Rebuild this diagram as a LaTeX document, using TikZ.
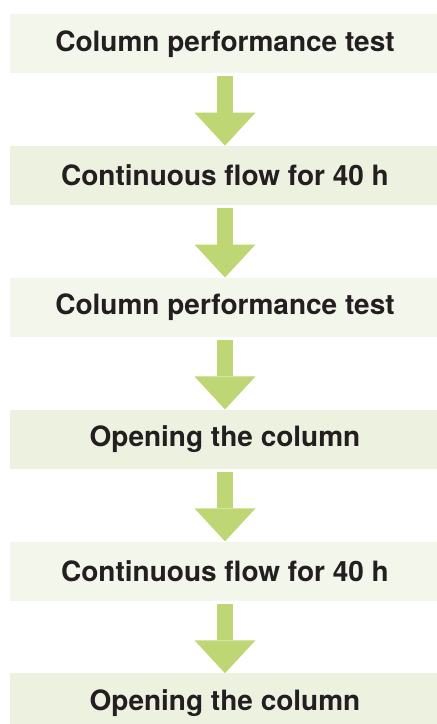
\documentclass[tikz,border=0pt]{standalone}
\usepackage{fontspec}
\setmainfont{TeX Gyre Heros}
\usepackage{xcolor}
\usepackage{tikz}
\usetikzlibrary{arrows.meta,positioning}
\definecolor{PaleGreen}{HTML}{F3F6EA}
\definecolor{SoftGreen}{HTML}{EDF2E0}
\definecolor{LeafGreen}{HTML}{BFD674}
\definecolor{InkBlack}{HTML}{231F20}

\begin{document}
\begin{tikzpicture}[
    x=1pt, y=1pt,
    font=\fontsize{28}{34}\selectfont\bfseries,
    node distance=72pt,
    % 流程步骤框（浅色 / 深色交替）
    stage/.style={rectangle, fill=PaleGreen, text=InkBlack, minimum width=430pt, minimum height=59.5pt, inner sep=0pt, align=center},
    stagealt/.style={stage, fill=SoftGreen},
    % 粗块状向下箭头
    arrow/.style={-{Triangle[width=61pt, length=33pt, line width=0pt]}, line width=16pt, draw=LeafGreen, shorten <=2.5pt}
]
\clip (0,0) rectangle (437,-724);

% 主流程 (单列)
\node[stage] (test1) at (225,-43.7) {Column performance test};
\node[stagealt, below=of test1] (flow1) {Continuous flow for 40 h};
\node[stage, below=of flow1] (test2) {Column performance test};
\node[stagealt, below=of test2] (open1) {Opening the column};
\node[stage, below=of open1] (flow2) {Continuous flow for 40 h};
\node[stagealt, below=of flow2] (open2) {Opening the column};

% 顺次相连
\draw[arrow] (test1) -- (flow1);
\draw[arrow] (flow1) -- (test2);
\draw[arrow] (test2) -- (open1);
\draw[arrow] (open1) -- (flow2);
\draw[arrow] (flow2) -- (open2);

\end{tikzpicture}
\end{document}
